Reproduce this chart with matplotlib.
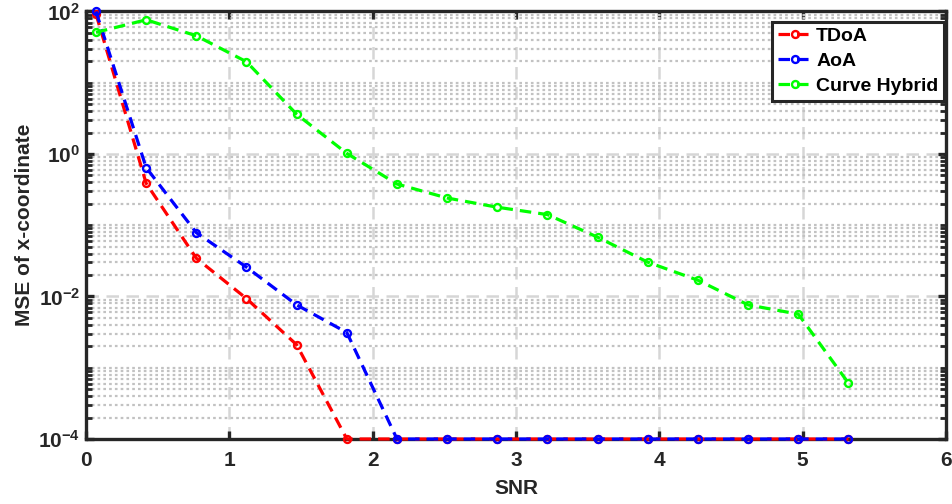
import matplotlib
matplotlib.use("Agg")
import matplotlib.pyplot as plt
from matplotlib.ticker import FixedLocator, LogLocator, NullFormatter

plt.rcParams["font.family"] = ["Liberation Sans", "DejaVu Sans"]
plt.rcParams["font.weight"] = "bold"
plt.rcParams["mathtext.fontset"] = "custom"
plt.rcParams["mathtext.rm"] = "Liberation Sans:bold"
plt.rcParams["mathtext.bf"] = "Liberation Sans:bold"
plt.rcParams["mathtext.default"] = "bf"

# SNR sweep and mean-squared error of the x-coordinate estimate
snr = [0.07, 0.42, 0.77, 1.12, 1.47, 1.82, 2.17, 2.52,
       2.87, 3.22, 3.57, 3.92, 4.27, 4.62, 4.97, 5.32]
mse_tdoa = [92, 0.388, 0.0344, 0.00935, 0.00210, 1e-4, 1e-4, 1e-4,
            1e-4, 1e-4, 1e-4, 1e-4, 1e-4, 1e-4, 1e-4, 1e-4]
mse_aoa = [100, 0.643, 0.0787, 0.0258, 0.00762, 0.00312, 1e-4, 1e-4,
           1e-4, 1e-4, 1e-4, 1e-4, 1e-4, 1e-4, 1e-4, 1e-4]
mse_hybrid = [50.9, 76.5, 45.6, 19.7, 3.61, 1.02, 0.379, 0.241,
              0.179, 0.141, 0.0679, 0.0303, 0.0169, 0.00762, 0.00565, 0.000608]

series = [
    ("TDoA", mse_tdoa, "#ff0000"),
    ("AoA", mse_aoa, "#0000ff"),
    ("Curve Hybrid", mse_hybrid, "#00ff00"),
]

x_ticks = [0, 1, 2, 3, 4, 5, 6]
y_ticks = [1e-4, 1e-2, 1e0, 1e2]
y_tick_labels = [r"$\mathbf{10^{-4}}$", r"$\mathbf{10^{-2}}$",
                 r"$\mathbf{10^{0}}$", r"$\mathbf{10^{2}}$"]

fig = plt.figure(figsize=(9.53, 5.04), dpi=100)
ax = fig.add_axes([0.0902, 0.1290, 0.9024, 0.8482])

for name, vals, col in series:
    ax.plot(snr, vals, color=col, lw=2.3, dashes=(3.6, 2.2),
            marker="o", ms=5, mew=1.7, mfc="none", mec=col,
            label=name, clip_on=False, zorder=3)

ax.set_yscale("log")
ax.set_xlim(0, 6)
ax.set_ylim(1e-4, 1e2)

ax.xaxis.set_major_locator(FixedLocator(x_ticks))
ax.set_xticklabels([str(t) for t in x_ticks])
ax.yaxis.set_major_locator(FixedLocator(y_ticks))
ax.set_yticklabels(y_tick_labels)
ax.yaxis.set_minor_locator(LogLocator(base=10, subs=range(1, 10), numticks=20))
ax.yaxis.set_minor_formatter(NullFormatter())

ax.grid(which="major", color="#d6d6d6", lw=1.8, linestyle=(0, (5, 3)), zorder=0)
ax.grid(which="minor", axis="y", color="#c2c2c2", lw=1.6, linestyle=(0, (1.2, 1.4)), zorder=0)
ax.set_axisbelow(True)

for sp in ax.spines.values():
    sp.set_linewidth(2.4)
    sp.set_color("#262626")

ax.tick_params(which="major", direction="in", length=6, width=2.4,
               top=True, right=True, labelsize=15, colors="#262626",
               labelcolor="#262626")
ax.tick_params(which="minor", direction="in", length=4, width=2.0,
               left=True, right=True, colors="#262626")
ax.tick_params(axis="x", pad=9)
ax.tick_params(axis="y", pad=4)
for lab in ax.get_xticklabels():
    lab.set_fontweight("bold")

ax.set_xlabel("SNR", fontsize=15, fontweight="bold", color="#262626", labelpad=6)
ax.set_ylabel("MSE of x-coordinate", fontsize=15, fontweight="bold", color="#262626", labelpad=3)

leg = ax.legend(loc="upper right", bbox_to_anchor=(0.998, 0.976), borderaxespad=0,
                handlelength=1.75, handletextpad=0.2,
                labelspacing=0.38, borderpad=0.3, fancybox=False, framealpha=1,
                edgecolor="#262626", prop={"weight": "bold", "size": 14})
leg.get_frame().set_linewidth(2.2)

fig.savefig("out.png", dpi=100)
